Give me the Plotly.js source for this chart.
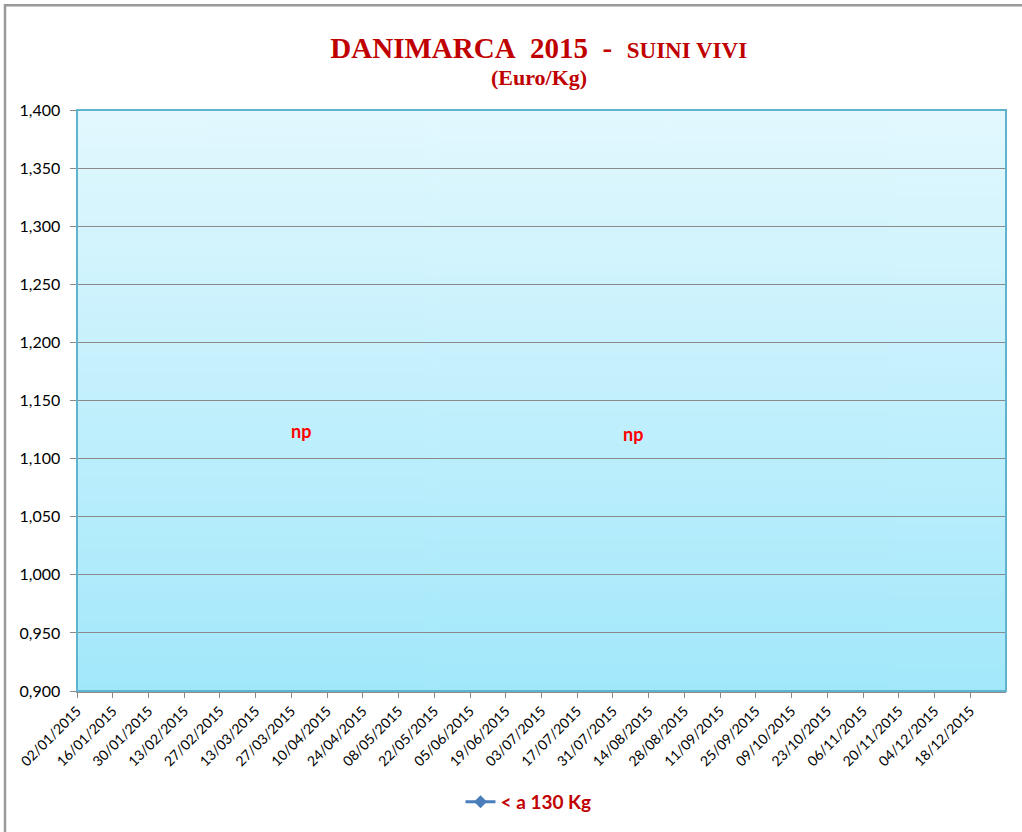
<!DOCTYPE html>
<html>
<head>
<meta charset="utf-8">
<script src="https://cdn.plot.ly/plotly-3.0.1.min.js"></script>
<style>html,body{margin:0;padding:0;background:#fff;}#chart{width:1022px;height:832px;}</style>
</head>
<body>
<div id="chart"></div>
<script>
// Tick dates (every two weeks) and their labels
const tickDates = ['2015-01-02','2015-01-16','2015-01-30','2015-02-13','2015-02-27','2015-03-13','2015-03-27','2015-04-10','2015-04-24','2015-05-08','2015-05-22','2015-06-05','2015-06-19','2015-07-03','2015-07-17','2015-07-31','2015-08-14','2015-08-28','2015-09-11','2015-09-25','2015-10-09','2015-10-23','2015-11-06','2015-11-20','2015-12-04','2015-12-18'];
const tickLabels = ['02/01/2015','16/01/2015','30/01/2015','13/02/2015','27/02/2015','13/03/2015','27/03/2015','10/04/2015','24/04/2015','08/05/2015','22/05/2015','05/06/2015','19/06/2015','03/07/2015','17/07/2015','31/07/2015','14/08/2015','28/08/2015','11/09/2015','25/09/2015','09/10/2015','23/10/2015','06/11/2015','20/11/2015','04/12/2015','18/12/2015'];
// Series "< a 130 Kg": no prices reported (np)
const seriesName = '< a 130 Kg';
const seriesValues = [null,null,null,null,null,null,null,null,null,null,null,null,null,null,null,null,null,null,null,null,null,null,null,null,null,null];
const yTicks = [0.900,0.950,1.000,1.050,1.100,1.150,1.200,1.250,1.300,1.350,1.400];
const npNotes = ['np','np'];

// vertical gradient background for the plot area
const cv = document.createElement('canvas');
cv.width = 4; cv.height = 582;
const ctx = cv.getContext('2d');
const g = ctx.createLinearGradient(0,0,0,582);
g.addColorStop(0,'#E2F8FE');
g.addColorStop(1,'#A2E8FB');
ctx.fillStyle = g; ctx.fillRect(0,0,4,582);
const bgURL = cv.toDataURL('image/png');

const trace = {
  x: tickDates, y: seriesValues, name: seriesName,
  type: 'scatter', mode: 'lines+markers',
  line: {color:'#4A7EBB', width: 3},
  marker: {symbol:'diamond', size: 10, color:'#4A7EBB'},
  connectgaps: false, showlegend: true
};

const layout = {
  width: 1022, height: 832,
  margin: {l:77, r:16, t:110, b:140},
  paper_bgcolor: '#ffffff', plot_bgcolor: 'rgba(0,0,0,0)',
  separators: ',.',
  font: {family:'Lato, "Open Sans", sans-serif', color:'#000'},
  title: {
    text: '<b>DANIMARCA&nbsp;&nbsp;2015&nbsp;&nbsp;-&nbsp;&nbsp;<span style="font-size:23px">SUINI VIVI</span></b>',
    font: {family:'"Liberation Serif", "Times New Roman", serif', size: 29, color:'#C00000'},
    xref: 'paper', x: 0.497, xanchor: 'center',
    yref: 'container', y: 1 - 58/832, yanchor: 'bottom', pad: {b:0}
  },
  xaxis: {
    type: 'date', range: ['2015-01-02','2016-01-01'],
    tickmode: 'array', tickvals: tickDates, ticktext: tickLabels,
    tickangle: -45, tickfont: {size: 14, family:'Lato, sans-serif', color:'#000'},
    ticks: 'outside', ticklen: 5, tickcolor: '#888', tickwidth: 1,
    showline: true, linecolor: '#8c8c8c', linewidth: 1.5,
    showgrid: false, zeroline: false, fixedrange: true
  },
  yaxis: {
    range: [0.9, 1.4], tickmode: 'array', tickvals: yTicks, tickformat: '.3f',
    tickfont: {size: 16, family:'Lato, sans-serif', color:'#000'},
    ticks: 'outside', ticklen: 6, tickcolor: '#888', tickwidth: 1,
    ticklabelstandoff: 6,
    showline: true, linecolor: '#7d9ba6', linewidth: 1.5,
    showgrid: true, gridcolor: '#8a8a8a', gridwidth: 1,
    zeroline: false, fixedrange: true
  },
  legend: {
    orientation: 'h', x: 0.486, xanchor: 'center', y: -0.189, yanchor: 'middle',
    font: {family:'Lato, "Open Sans", sans-serif', size: 19, color:'#C00000', weight: 'bold'},
    bgcolor: 'rgba(0,0,0,0)', itemwidth: 30
  },
  images: [{
    source: bgURL, xref:'paper', yref:'paper', x:0, y:1, sizex:1, sizey:1,
    sizing:'stretch', layer:'below', xanchor:'left', yanchor:'top'
  }],
  shapes: [
    {type:'rect', xref:'paper', yref:'paper', x0:0, x1:1, y0:0, y1:1,
     line:{color:'#5FB3CC', width:2}, fillcolor:'rgba(0,0,0,0)', layer:'above'},
    {type:'rect', xref:'paper', yref:'paper', x0:(5-77)/929, x1:(1040-77)/929, y0:(692-850)/582, y1:(692-5)/582,
     line:{color:'#9a9a9a', width:2.5}, fillcolor:'rgba(0,0,0,0)', layer:'above'}
  ],
  annotations: [
    {text:'<b>(Euro/Kg)</b>', xref:'paper', yref:'paper', x:0.497, y:(692-77)/582, xanchor:'center', yanchor:'middle',
     showarrow:false, font:{family:'"Liberation Serif", "Times New Roman", serif', size:22, color:'#C00000'}},
    {text:'<b>'+npNotes[0]+'</b>', xref:'paper', yref:'paper', x:(301-77)/929, y:(692-432)/582, xanchor:'center', yanchor:'middle',
     showarrow:false, font:{family:'Lato, "Open Sans", sans-serif', size:18, color:'#FF0000'}},
    {text:'<b>'+npNotes[1]+'</b>', xref:'paper', yref:'paper', x:(633-77)/929, y:(692-435)/582, xanchor:'center', yanchor:'middle',
     showarrow:false, font:{family:'Lato, "Open Sans", sans-serif', size:18, color:'#FF0000'}}
  ]
};

Plotly.newPlot('chart', [trace], layout, {displayModeBar:false, staticPlot:true});
</script>
</body>
</html>
